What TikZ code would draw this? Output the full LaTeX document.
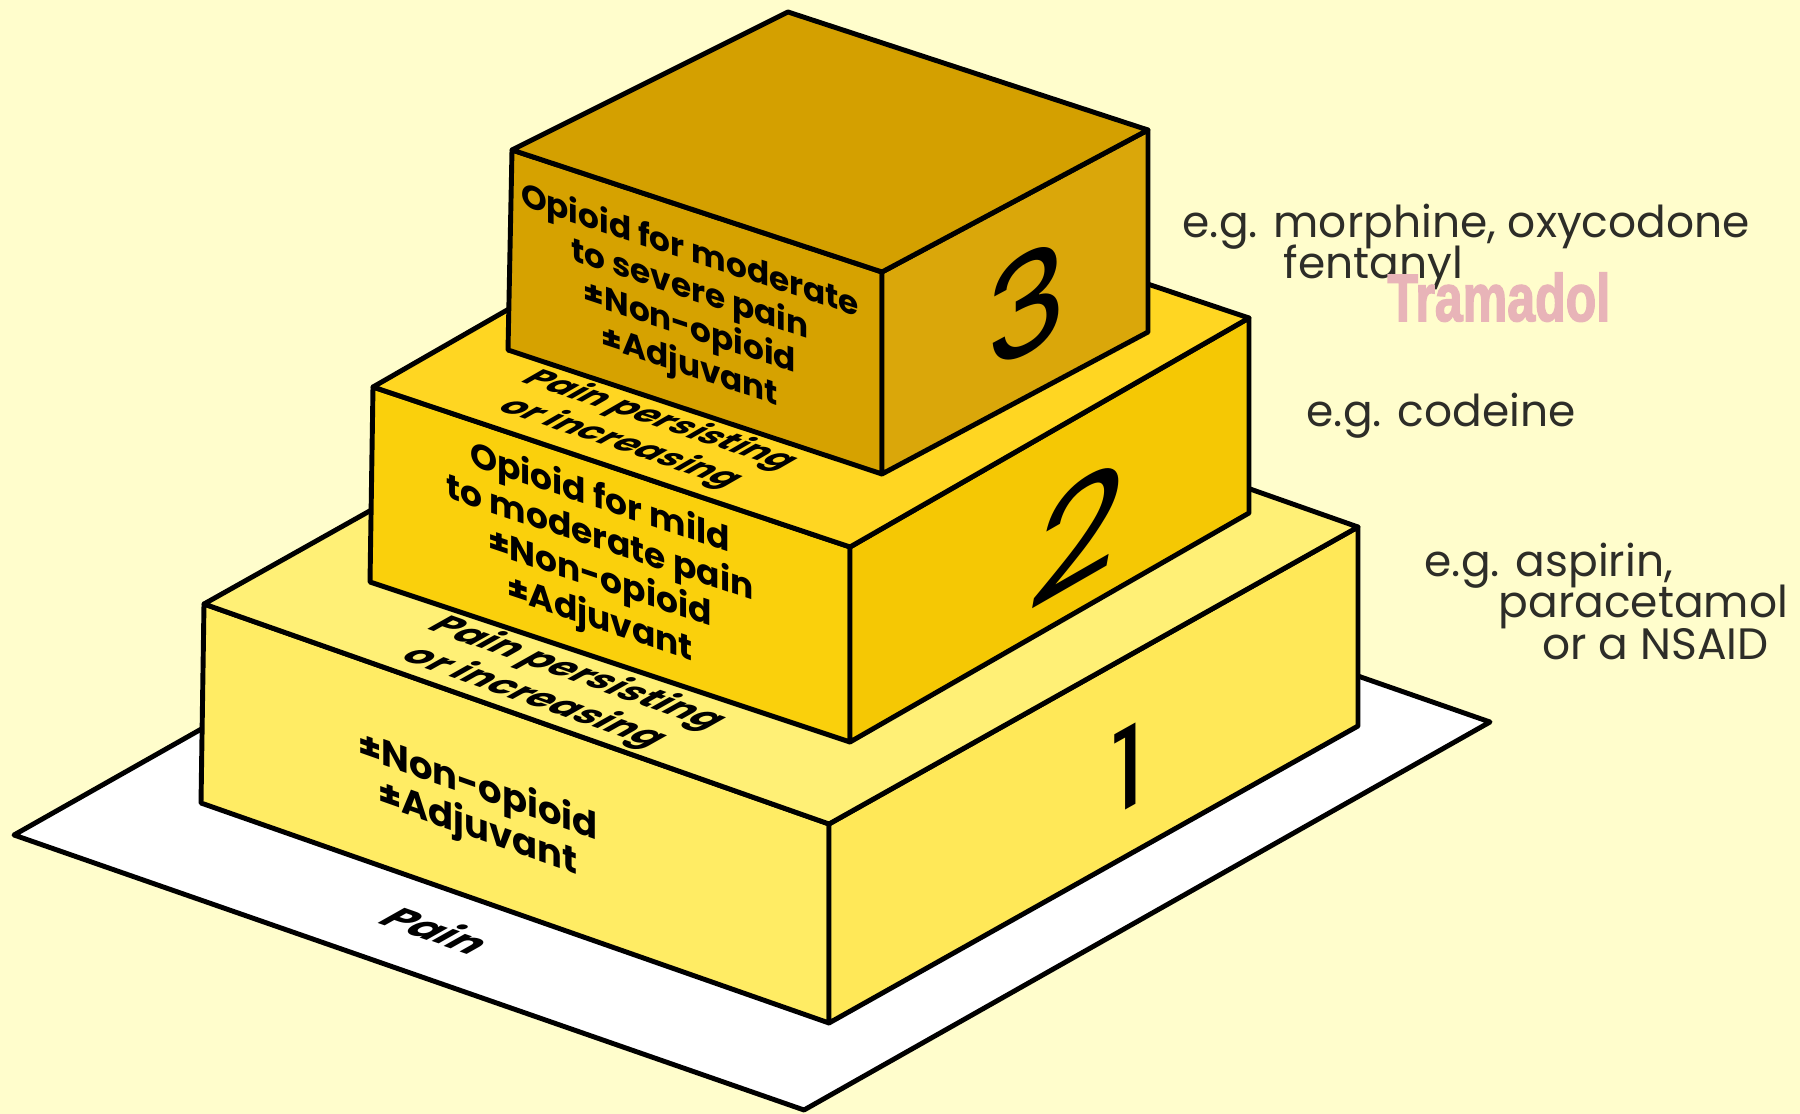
\documentclass[tikz,border=0pt]{standalone}
\usepackage{fontspec}
\setmainfont{Poppins}
\newfontfamily\tramfont[BoldFeatures={FakeBold=2.5}]{Liberation Sans}
\definecolor{bg}{RGB}{255,253,204}
\definecolor{bonefront}{RGB}{255,236,100}
\definecolor{bonetop}{RGB}{255,240,118}
\definecolor{boneright}{RGB}{255,232,88}
\definecolor{btwofront}{RGB}{250,208,12}
\definecolor{btwotop}{RGB}{255,214,34}
\definecolor{btworight}{RGB}{245,200,4}
\definecolor{bthreefront}{RGB}{214,162,0}
\definecolor{bthreetop}{RGB}{212,160,0}
\definecolor{bthreeright}{RGB}{218,167,10}
\definecolor{labelgray}{RGB}{45,45,40}
\definecolor{tram}{RGB}{232,180,184}
\begin{document}
\begin{tikzpicture}[x=0.1mm,y=-0.1mm,
  edge/.style={draw=black,line width=1.4pt,line join=round},
  facetext/.style={font=\bfseries, align=center, inner sep=0pt, transform shape},
  toptext/.style={font=\bfseries, align=center, inner sep=0pt, transform shape},
  digit/.style={inner sep=0pt, transform shape},
  sidelabel/.style={anchor=base west, inner sep=0pt, text=labelgray, font=\fontsize{12.5}{14}\selectfont}]
\fill[bg] (0,0) rectangle (1800,1114);
\useasboundingbox (0,0) rectangle (1800,1114);

% floor
\coordinate (FL) at (14,835);
\coordinate (FB) at (804,1110);
\coordinate (FR) at (1490,722);
\coordinate (FK) at (700,447);
\draw[edge,fill=white] (FL)--(FB)--(FR)--(FK)--cycle;

% box 1
\coordinate (L1) at (204,604);
\coordinate (L1b) at (201,803);
\coordinate (F1) at (829,824);
\coordinate (F1b) at (829,1023);
\coordinate (R1) at (1358,527);
\coordinate (R1b) at (1358,726);
\coordinate (K1) at (733,307);
\draw[edge,fill=bonefront] (L1)--(F1)--(F1b)--(L1b)--cycle;
\draw[edge,fill=boneright] (F1)--(R1)--(R1b)--(F1b)--cycle;
\draw[edge,fill=bonetop] (L1)--(F1)--(R1)--(K1)--cycle;

% box 2
\coordinate (L2) at (373,387);
\coordinate (L2b) at (370,582);
\coordinate (F2) at (850,547);
\coordinate (F2b) at (850,742);
\coordinate (R2) at (1249,318);
\coordinate (R2b) at (1249,513);
\coordinate (K2) at (772,158);
\draw[edge,fill=btwofront] (L2)--(F2)--(F2b)--(L2b)--cycle;
\draw[edge,fill=btworight] (F2)--(R2)--(R2b)--(F2b)--cycle;
\draw[edge,fill=btwotop] (L2)--(F2)--(R2)--(K2)--cycle;

% box 3
\coordinate (L3) at (512,150);
\coordinate (L3b) at (508,350);
\coordinate (F3) at (882,272);
\coordinate (F3b) at (882,474);
\coordinate (R3) at (1148,130);
\coordinate (R3b) at (1148,332);
\coordinate (K3) at (788,12);
\draw[edge,fill=bthreefront] (L3)--(F3)--(F3b)--(L3b)--cycle;
\draw[edge,fill=bthreeright] (F3)--(R3)--(R3b)--(F3b)--cycle;
\draw[edge,fill=bthreetop] (L3)--(F3)--(R3)--(K3)--cycle;

% face texts
\begin{scope}[shift={(690,310)}, cm={1,-0.33,0,1,(0,0)}]
  \node[facetext, font=\bfseries\fontsize{9.3}{9.8}\selectfont] (tthree) {Opioid for moderate\\to severe pain\\±Non-opioid\\±Adjuvant};
\end{scope}
\begin{scope}[shift={(600,560)}, cm={1,-0.335,0,1,(0,0)}]
  \node[facetext, font=\bfseries\fontsize{9.8}{10.2}\selectfont] (ttwo) {Opioid for mild\\to moderate pain\\±Non-opioid\\±Adjuvant};
\end{scope}
\begin{scope}[shift={(478,809)}, cm={1,-0.352,0,1,(0,0)}]
  \node[facetext, font=\bfseries\fontsize{10.5}{11.7}\selectfont] (tone) {±Non-opioid\\±Adjuvant};
\end{scope}

% top texts
\begin{scope}[shift={(640,432)}, cm={0.948,-0.318,0.867,0.498,(0,0)}]
  \node[toptext, font=\bfseries\fontsize{10.3}{13}\selectfont] (ptwo) {Pain persisting\\or increasing};
\end{scope}
\begin{scope}[shift={(555,686)}, cm={0.943,-0.332,0.872,0.490,(0,0)}]
  \node[toptext, font=\bfseries\fontsize{11.2}{14}\selectfont] (pone) {Pain persisting\\or increasing};
\end{scope}
\begin{scope}[shift={(438,930)}, cm={0.944,-0.329,0.871,0.491,(0,0)}]
  \node[toptext, font=\bfseries\fontsize{12.5}{14}\selectfont] (pfloor) {Pain};
\end{scope}

% digits
\begin{scope}[shift={(1027,304)}, cm={1,0.534,0,1,(0,0)}]
  \node[digit, font=\fontsize{39}{39}\selectfont] (nthree) {3};
\end{scope}
\begin{scope}[shift={(1079,532)}, cm={1,0.574,0.18,1,(0,0)}]
  \node[digit, font=\fontsize{44}{44}\selectfont] (ntwo) {2};
\end{scope}
\begin{scope}[shift={(1128,768)}, cm={1,0.561,0,1,(0,0)}]
  \node[digit, font=\fontsize{32}{32}\selectfont] (none) {1};
\end{scope}

% side labels
\node[sidelabel] (egthree) at (1182,238) {e.g. morphine, oxycodone};
\node[sidelabel] (fent) at (1283,279) {fentanyl};
\node[sidelabel] (egtwo) at (1306,427) {e.g. codeine};
\node[sidelabel] (egone) at (1424,577) {e.g. aspirin,};
\node[sidelabel] (para) at (1498,617) {paracetamol};
\node[sidelabel] (nsaid) at (1542,660) {or a NSAID};

\node[anchor=base west, inner sep=0pt, text=tram, xscale=0.75,
      font=\tramfont\bfseries\fontsize{19}{19}\selectfont] (tramadol) at (1387,321) {Tramadol};
\end{tikzpicture}
\end{document}
